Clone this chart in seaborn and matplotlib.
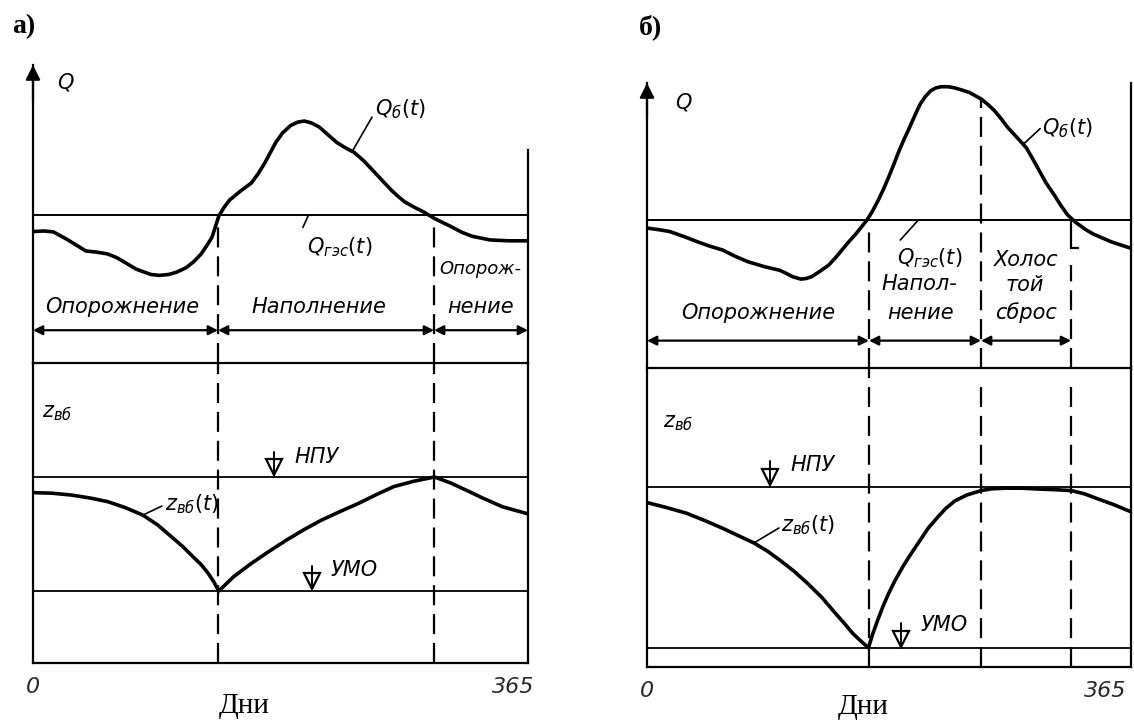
import numpy as np
import pandas as pd
import seaborn as sns
import matplotlib.pyplot as plt
from matplotlib.transforms import ScaledTranslation

sns.set_theme(style="white")
plt.rcParams["font.family"] = ["DejaVu Sans"]
plt.rcParams["mathtext.fontset"] = "dejavusans"
plt.rcParams["mathtext.default"] = "it"

# --- данные: а) ---
days_a_q = [0, 8, 15, 25, 39, 47, 55, 62, 68, 76, 87, 93, 100, 106, 113, 119, 124, 128,
            132, 137, 141, 145, 153, 161, 166, 171, 175, 179, 184, 190, 195, 200, 205,
            211, 217, 224, 230, 237, 244, 250, 257, 264, 269, 274, 281, 288, 296, 309,
            316, 324, 337, 351, 365]
q_a = [44.1, 44.3, 44.0, 41.5, 37.6, 37.2, 36.6, 35.3, 33.7, 31.5, 29.7, 29.4, 29.7,
       30.5, 32.0, 34.2, 36.6, 39.3, 42.2, 49.3, 52.3, 54.7, 57.7, 60.4, 63.5, 67.2,
       70.6, 74.0, 77.2, 79.7, 80.8, 81.2, 80.6, 79.2, 76.8, 74.0, 72.3, 70.6, 67.8,
       64.9, 61.5, 58.1, 56.0, 54.1, 52.3, 50.7, 48.5, 45.6, 43.9, 42.5, 41.3, 41.0, 41.0]
q_ges_a = 49.5
days_a_z = [0, 14, 28, 42, 55, 68, 81, 92, 102, 110, 118, 124, 129, 133, 137, 148, 161,
            174, 187, 200, 213, 227, 240, 253, 266, 281, 296, 308, 319, 332, 346, 365]
z_a = [56.8, 56.6, 56.0, 55.0, 53.8, 51.8, 49.3, 46.0, 42.1, 39.0, 35.4, 32.8, 30.0,
       27.3, 24.0, 28.8, 33.2, 37.2, 41.0, 44.5, 47.7, 50.6, 53.2, 56.1, 58.8, 60.6,
       62.0, 60.0, 57.7, 54.9, 52.1, 49.7]
npu_a, umo_a = 62.0, 24.0
bounds_a = [136.4, 295.7]

# --- данные: б) ---
days_b_q = [0, 8, 17, 28, 38, 47, 57, 66, 76, 89, 100, 105, 110, 116, 120, 124, 130, 137,
            142, 147, 152, 158, 166, 170, 174, 178, 182, 186, 190, 194, 198, 202, 206,
            210, 214, 218, 222, 227, 232, 237, 243, 247, 252, 257, 262, 267, 272, 279,
            286, 291, 296, 301, 307, 312, 317, 323, 331, 337, 344, 350, 357, 365]
q_b = [49.1, 48.6, 47.9, 46.1, 44.3, 42.8, 41.4, 39.3, 37.3, 35.5, 34.3, 33.2, 32.0,
       31.2, 31.4, 32.0, 33.8, 36.1, 38.6, 41.4, 44.2, 47.3, 52.0, 55.0, 58.5, 62.4,
       66.7, 71.3, 76.1, 80.4, 84.4, 88.6, 92.6, 95.3, 97.3, 98.3, 98.7, 98.7, 98.3,
       97.6, 96.7, 95.7, 94.4, 92.5, 90.3, 87.5, 84.4, 80.9, 77.3, 73.3, 69.1, 64.9,
       60.8, 57.1, 53.8, 51.2, 48.5, 46.9, 45.5, 44.3, 43.2, 42.0]
q_ges_b = 52.0
days_b_z = [0, 15, 30, 44, 57, 69, 81, 91, 100, 111, 121, 132, 142, 149, 155, 161, 167,
            170, 174, 178, 182, 187, 193, 199, 206, 212, 219, 225, 232, 241, 252, 260,
            270, 283, 296, 308, 320, 330, 339, 352, 365]
z_b = [55.0, 53.3, 51.4, 48.9, 46.4, 43.9, 41.4, 38.7, 35.8, 32.0, 28.0, 23.2, 18.0,
       14.5, 11.3, 8.8, 6.4, 10.8, 15.7, 20.3, 24.4, 28.9, 33.6, 37.8, 42.4, 46.4, 50.0,
       52.9, 55.5, 57.5, 59.0, 59.6, 59.8, 59.8, 59.5, 59.3, 59.0, 57.9, 56.4, 54.3, 51.9]
npu_b, umo_b = 60.3, 6.2
bounds_b = [167.4, 251.9, 319.8]

W, H = 1134, 722
fig = plt.figure(figsize=(W / 100, H / 100), dpi=100)


def box(x0, y0, x1, y1):
    return [x0 / W, 1 - y1 / H, (x1 - x0) / W, (y1 - y0) / H]


LW = 1.6
ital = dict(fontsize=15, style="italic", color="black")


def frame(ax, top_part, right_lo=0, right_hi=100):
    ax.set_xlim(0, 365)
    ax.set_ylim(0, 100)
    ax.set_xticks([])
    ax.set_yticks([])
    ax.patch.set_alpha(0)
    for s in ax.spines.values():
        s.set_color("black")
        s.set_linewidth(LW)
    ax.spines["top"].set_visible(False)
    if top_part:
        ax.spines["right"].set_bounds(right_lo, right_hi)
        ax.annotate("", xy=(0, 100), xytext=(0, 88),
                    arrowprops=dict(arrowstyle="-|>", color="black", lw=LW,
                                    mutation_scale=22, shrinkA=0, shrinkB=0),
                    annotation_clip=False)


def curve(ax, days, vals):
    df = pd.DataFrame({"day": days, "v": vals})
    sns.lineplot(data=df, x="day", y="v", ax=ax, color="black", lw=2.6,
                 solid_joinstyle="round", solid_capstyle="round")
    ax.set_xlabel("")
    ax.set_ylabel("")


def level(ax, x_mark, y, x_text, y_text, name):
    ax.axhline(y, color="black", lw=1.3)
    ax.plot([x_mark], [y + 3.2], marker="v", ms=11, mfc="white", mec="black", mew=1.6)
    ax.plot([x_mark, x_mark], [y, y + 8.5], color="black", lw=1.4)
    ax.text(x_text, y_text, name, ha="left", va="center", **ital)


def span_arrow(ax, x0, x1, y):
    ax.annotate("", xy=(x1, y), xytext=(x0, y),
                arrowprops=dict(arrowstyle="<|-|>", color="black", lw=1.6,
                                mutation_scale=14, shrinkA=0, shrinkB=0))


def ticks(ax, shift):
    ax.set_xticks([0, 365])
    ax.set_xticklabels(["0", "365"], fontsize=16, style="italic")
    ax.tick_params(axis="x", length=0, pad=10)
    lab = ax.get_xticklabels()
    lab[1].set_transform(lab[1].get_transform() +
                         ScaledTranslation(shift, 0, fig.dpi_scale_trans))


dash = (9, 4)
serif = dict(family="Liberation Serif", ha="center", va="center", color="black")

# ================= а) =================
axq = fig.add_axes(box(33, 65, 528, 363))
axz = fig.add_axes(box(33, 363, 528, 663))
frame(axq, True, 0, 71.5)
frame(axz, False)

curve(axq, days_a_q, q_a)
axq.axhline(q_ges_a, color="black", lw=1.4)
for b, top in zip(bounds_a, [47, 46]):
    axq.plot([b, b], [0, top], color="black", lw=1.6, dashes=dash)
    axz.plot([b, b], [0, 100], color="black", lw=1.6, dashes=dash)

axq.text(18, 94, "Q", ha="left", va="center", **ital)
axq.plot([236, 250], [71.5, 82.5], color="black", lw=1.2)
axq.text(252, 85, r"$Q_{б}(t)$", ha="left", va="center", **ital)
axq.plot([203, 199], [49.5, 45.5], color="black", lw=1.2)
axq.text(226, 39, r"$Q_{гэс}(t)$", ha="center", va="center", **ital)
axq.text(66, 18.8, "Опорожнение", ha="center", va="center", **ital)
axq.text(211, 18.8, "Наполнение", ha="center", va="center", **ital)
axq.text(330, 31.4, "Опорож-", ha="center", va="center", fontsize=13,
         style="italic", color="black")
axq.text(330, 18.8, "нение", ha="center", va="center", **ital)
edges = [0] + bounds_a + [365]
for x0, x1 in zip(edges[:-1], edges[1:]):
    span_arrow(axq, x0, x1, 11)

curve(axz, days_a_z, z_a)
level(axz, 177.7, npu_a, 193, 68.7, "НПУ")
level(axz, 205.7, umo_a, 219, 31, "УМО")
axz.text(7, 83.3, r"$z_{вб}$", ha="left", va="center", **ital)
axz.plot([81, 95], [49.3, 52.3], color="black", lw=1.2)
axz.text(97, 53, r"$z_{вб}(t)$", ha="left", va="center", **ital)
ticks(axz, -0.15)
fig.text(244 / W, 1 - 706 / H, "Дни", fontsize=21, **serif)
fig.text(24 / W, 1 - 27 / H, "а)", fontsize=20, weight="bold", **serif)

# ================= б) =================
bxq = fig.add_axes(box(647, 83, 1131, 368))
bxz = fig.add_axes(box(647, 368, 1131, 667))
frame(bxq, True, 0, 100)
frame(bxz, False)

curve(bxq, days_b_q, q_b)
bxq.axhline(q_ges_b, color="black", lw=1.4)
for b, top in zip(bounds_b, [48, 94, 36]):
    bxq.plot([b, b], [0, top], color="black", lw=1.6, dashes=dash)
bxq.plot([bounds_b[2], bounds_b[2]], [q_ges_b, 42], color="black", lw=1.6)
bxq.plot([bounds_b[2], bounds_b[2] + 5], [42, 42], color="black", lw=1.6)
for b, top in zip(bounds_b, [100, 96, 96]):
    bxz.plot([b, b], [0, top], color="black", lw=1.6, dashes=dash)

bxq.text(21, 93, "Q", ha="left", va="center", **ital)
bxq.plot([284, 296.5], [78.6, 84], color="black", lw=1.2)
bxq.text(298, 84, r"$Q_{б}(t)$", ha="left", va="center", **ital)
bxq.plot([191, 204], [44.9, 51.6], color="black", lw=1.2)
bxq.text(213, 38.6, r"$Q_{гэс}(t)$", ha="center", va="center", **ital)
bxq.text(84, 19.3, "Опорожнение", ha="center", va="center", **ital)
bxq.text(205, 29.6, "Напол-", ha="center", va="center", **ital)
bxq.text(206, 19.3, "нение", ha="center", va="center", **ital)
bxq.text(286, 37.9, "Холос", ha="center", va="center", **ital)
bxq.text(285, 29.1, "той", ha="center", va="center", **ital)
bxq.text(286, 19.3, "сброс", ha="center", va="center", **ital)
edges = [0] + bounds_b
for x0, x1 in zip(edges[:-1], edges[1:]):
    span_arrow(bxq, x0, x1, 9.6)

curve(bxz, days_b_z, z_b)
level(bxz, 92.8, npu_b, 108, 67.6, "НПУ")
level(bxz, 191.2, umo_b, 206, 14, "УМО")
bxz.text(12, 81.6, r"$z_{вб}$", ha="left", va="center", **ital)
bxz.plot([80.7, 99.5], [41.5, 46.5], color="black", lw=1.2)
bxz.text(101, 47.5, r"$z_{вб}(t)$", ha="left", va="center", **ital)
ticks(bxz, -0.26)
fig.text(863 / W, 1 - 707 / H, "Дни", fontsize=21, **serif)
fig.text(650 / W, 1 - 27 / H, "б)", fontsize=20, weight="bold", **serif)

fig.savefig("out.png", dpi=100, facecolor="white")
